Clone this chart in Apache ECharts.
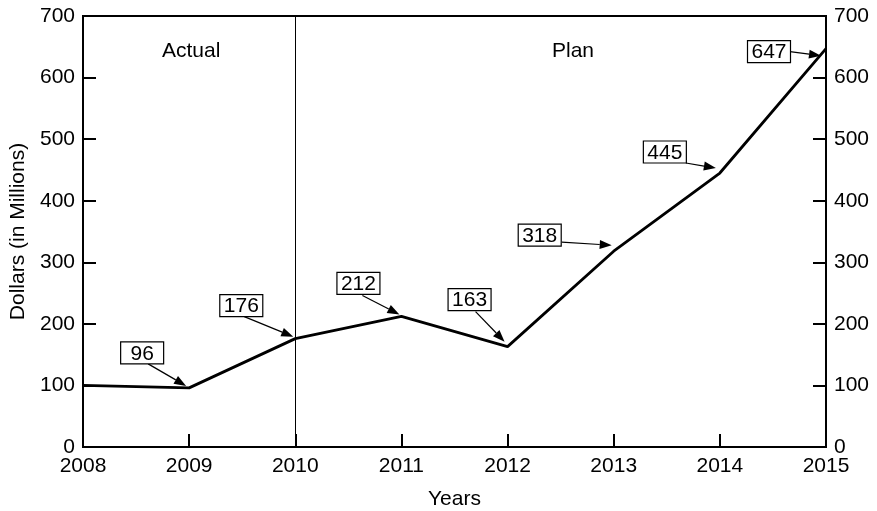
<!DOCTYPE html>
<html>
<head>
<meta charset="utf-8">
<script src="https://cdn.jsdelivr.net/npm/echarts@6/dist/echarts.min.js"></script>
<style>
  html, body { margin: 0; padding: 0; background: #fff; }
  #chart { width: 877px; height: 511px; }
</style>
</head>
<body>
<div id="chart"></div>
<script>
// Revenue by year, actual through 2010 and plan afterwards
const years = [2008, 2009, 2010, 2011, 2012, 2013, 2014, 2015];
const dollars = [100, 96, 176, 212, 163, 318, 445, 647];

// Boxed value callouts
const calloutYears = [2009, 2010, 2011, 2012, 2013, 2014, 2015];
const calloutValues = [96, 176, 212, 163, 318, 445, 647];

// Year that splits actual from plan
const splitYear = 2010;

// Callout layout in pixels relative to the point: box centre, arrow tail, arrow tip
const calloutLayout = [
  { box: [-47, -35], tail: [-41, -24], tip: [-3, -2] },
  { box: [-54, -33], tail: [-51, -22], tip: [-2, -2] },
  { box: [-43, -33], tail: [-39, -21], tip: [-2, -2] },
  { box: [-38, -47], tail: [-32, -35], tip: [-3, -5] },
  { box: [-74, -16], tail: [-52, -9],  tip: [-2, -6] },
  { box: [-55, -21], tail: [-34, -10], tip: [-4, -5] },
  { box: [-57, 3],   tail: [-36, 3],   tip: [-5, 7] }
];

const FONT = '"Liberation Sans", Arial, Helvetica, sans-serif';
const FS = 21;
const BOX_W = 43, BOX_H = 22;

function renderCallout(params, api) {
  const i = params.dataIndex;
  const p = api.coord([api.value(0), api.value(1)]);
  const L = calloutLayout[i];
  const cx = p[0] + L.box[0], cy = p[1] + L.box[1];
  const tx = p[0] + L.tail[0], ty = p[1] + L.tail[1];
  const hx = p[0] + L.tip[0], hy = p[1] + L.tip[1];
  const dx = hx - tx, dy = hy - ty;
  const len = Math.sqrt(dx * dx + dy * dy);
  const ux = dx / len, uy = dy / len;
  const headLen = 12, headHalf = 4.5;
  const bx = hx - ux * headLen, by = hy - uy * headLen;
  return {
    type: 'group',
    children: [
      {
        type: 'line',
        shape: { x1: tx, y1: ty, x2: bx, y2: by },
        style: { stroke: '#000', lineWidth: 1.2 }
      },
      {
        type: 'polygon',
        shape: { points: [[hx, hy], [bx - uy * headHalf, by + ux * headHalf], [bx + uy * headHalf, by - ux * headHalf]] },
        style: { fill: '#000' }
      },
      {
        type: 'rect',
        shape: { x: cx - BOX_W / 2, y: cy - BOX_H / 2, width: BOX_W, height: BOX_H },
        style: { fill: '#fff', stroke: '#000', lineWidth: 1.2 }
      },
      {
        type: 'text',
        style: {
          text: String(api.value(1)),
          x: cx, y: cy + 1,
          align: 'center', verticalAlign: 'middle',
          textAlign: 'center', textVerticalAlign: 'middle',
          font: FS + 'px ' + FONT,
          fill: '#000'
        }
      }
    ]
  };
}

const axisLineStyle = { color: '#000', width: 2 };
const yAxisBase = {
  type: 'value',
  min: 0, max: 700, interval: 100,
  axisLine: { show: true, lineStyle: axisLineStyle },
  axisTick: { show: true, inside: true, length: 13, lineStyle: { color: '#000', width: 2 } },
  axisLabel: { color: '#000', fontSize: FS, fontFamily: FONT, margin: 8 },
  splitLine: { show: false }
};

const chart = echarts.init(document.getElementById('chart'), null, { renderer: 'canvas' });
chart.setOption({
  animation: false,
  backgroundColor: '#fff',
  grid: {
    left: 83, right: 51, top: 16, bottom: 64,
    containLabel: false,
    outerBoundsMode: 'none',
    show: true, borderColor: '#000', borderWidth: 2, backgroundColor: 'transparent'
  },
  xAxis: {
    type: 'value',
    min: 2008, max: 2015, interval: 1,
    axisLine: { show: true, lineStyle: axisLineStyle },
    axisTick: { show: true, inside: true, length: 13, lineStyle: { color: '#000', width: 2 } },
    axisLabel: { color: '#000', fontSize: FS, fontFamily: FONT, margin: 9, formatter: v => String(v) },
    splitLine: { show: false },
    name: 'Years',
    nameLocation: 'middle',
    nameGap: 42,
    nameTextStyle: { color: '#000', fontSize: FS, fontFamily: FONT }
  },
  yAxis: [
    Object.assign({}, yAxisBase, {
      position: 'left',
      name: 'Dollars (in Millions)',
      nameLocation: 'middle',
      nameGap: 54,
      nameRotate: 90,
      nameTextStyle: { color: '#000', fontSize: FS, fontFamily: FONT }
    }),
    Object.assign({}, yAxisBase, { position: 'right' })
  ],
  graphic: [
    { type: 'text', left: 162, top: 41, style: { text: 'Actual', font: FS + 'px ' + FONT, fill: '#000' } },
    { type: 'text', left: 552, top: 41, style: { text: 'Plan', font: FS + 'px ' + FONT, fill: '#000' } }
  ],
  series: [
    {
      type: 'line',
      data: years.map((y, i) => [y, dollars[i]]),
      showSymbol: false,
      symbol: 'none',
      lineStyle: { color: '#000', width: 2.8 },
      z: 3,
      markLine: {
        silent: true,
        symbol: 'none',
        label: { show: false },
        lineStyle: { color: '#000', width: 1, type: 'solid' },
        data: [{ xAxis: splitYear }]
      }
    },
    {
      type: 'custom',
      renderItem: renderCallout,
      data: calloutYears.map((y, i) => [y, calloutValues[i]]),
      clip: false,
      z: 5
    }
  ]
});
</script>
</body>
</html>
